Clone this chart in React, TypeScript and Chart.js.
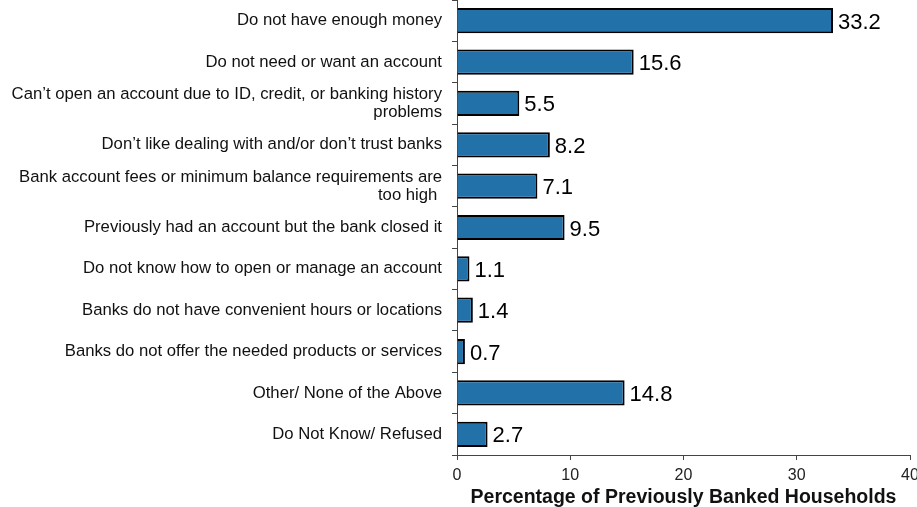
import React, { useEffect, useRef } from "react";
import { Chart, registerables } from "chart.js";

Chart.register(...registerables);

const categories: (string | string[])[] = [
  "Do not have enough money",
  "Do not need or want an account",
  ["Can\u2019t open an account due to ID, credit, or banking history", "problems"],
  "Don\u2019t like dealing with and/or don\u2019t trust banks",
  ["Bank account fees or minimum balance requirements are", "too high "],
  "Previously had an account but the bank closed it",
  "Do not know how to open or manage an account",
  "Banks do not have convenient hours or locations",
  "Banks do not offer the needed products or services",
  "Other/ None of the Above",
  "Do Not Know/ Refused",
];

const values: number[] = [33.2, 15.6, 5.5, 8.2, 7.1, 9.5, 1.1, 1.4, 0.7, 14.8, 2.7];

const xTicks: number[] = [0, 10, 20, 30, 40];

const axisTitle = "Percentage of Previously Banked Households";

const FONT = "'Liberation Sans', Arial, sans-serif";

const valueLabels = {
  id: "valueLabels",
  afterDatasetsDraw(chart: any) {
    const ctx = chart.ctx;
    const meta = chart.getDatasetMeta(0);
    ctx.save();
    ctx.font = `22px ${FONT}`;
    ctx.fillStyle = "#000";
    ctx.textAlign = "left";
    ctx.textBaseline = "middle";
    meta.data.forEach((bar: any, i: number) => {
      ctx.fillText(values[i].toFixed(1), bar.x + 5, bar.y + 2);
    });
    ctx.restore();
  },
};

export default function App() {
  const ref = useRef<HTMLCanvasElement | null>(null);
  useEffect(() => {
    document.body.style.margin = "0";
    if (!ref.current) return;
    const chart = new Chart(ref.current, {
      type: "bar",
      data: {
        labels: categories,
        datasets: [
          {
            data: values,
            backgroundColor: "#2271A8",
            borderColor: "#000",
            borderWidth: 2,
            barPercentage: 0.61,
            categoryPercentage: 1,
          },
        ],
      },
      options: {
        indexAxis: "y",
        animation: false,
        responsive: false,
        maintainAspectRatio: false,
        layout: { padding: { top: 0, right: 7, bottom: 0, left: 0 } },
        plugins: {
          legend: { display: false },
          tooltip: { enabled: false },
          title: { display: false },
        },
        scales: {
          x: {
            type: "linear",
            min: 0,
            max: 40,
            afterBuildTicks: (axis: any) => {
              axis.ticks = xTicks.map((v) => ({ value: v }));
            },
            afterFit: (axis: any) => {
              axis.height = 52;
              axis.paddingLeft = 0;
              axis.paddingRight = 0;
            },
            grid: {
              drawOnChartArea: false,
              drawTicks: true,
              tickLength: 5,
              color: "#444",
            },
            border: { display: true, color: "#444", width: 1 },
            ticks: {
              color: "#222",
              font: { family: FONT, size: 16 },
              padding: 6,
              maxRotation: 0,
            },
            title: {
              display: true,
              text: axisTitle,
              color: "#111",
              font: { family: FONT, size: 19.5, weight: "bold", lineHeight: 1 },
              padding: { top: 0, bottom: 0 },
            },
          },
          y: {
            type: "category",
            afterFit: (axis: any) => {
              axis.width = 457;
              axis.paddingTop = 0;
              axis.paddingBottom = 0;
            },
            grid: {
              drawOnChartArea: false,
              drawTicks: true,
              tickLength: 5,
              offset: true,
              color: "#444",
            },
            border: { display: true, color: "#444", width: 1 },
            ticks: {
              color: "#111",
              font: { family: FONT, size: 16.7, lineHeight: 1.08 },
              padding: 10,
              crossAlign: "near",
            },
          },
        },
      },
      plugins: [valueLabels],
    });
    return () => chart.destroy();
  }, []);
  return (
    <div style={{ width: 917, height: 507 }}>
      <canvas ref={ref} width={917} height={507} style={{ display: "block" }} />
    </div>
  );
}
